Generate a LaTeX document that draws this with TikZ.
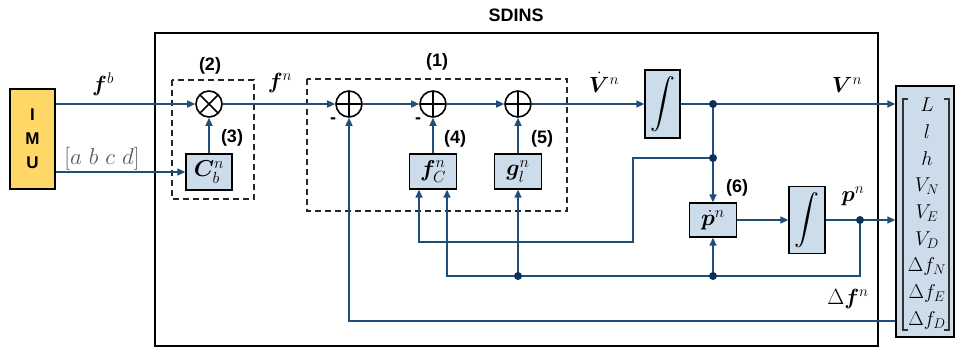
\RequirePackage{fix-cm}
\documentclass[tikz,border=0pt]{standalone}
\usepackage{amsmath,bm}
\usepackage{fontspec}
\newfontfamily\lsans{Liberation Sans}
\usetikzlibrary{arrows.meta}
\definecolor{lineblue}{HTML}{1F4E79}
\definecolor{dotnavy}{HTML}{0E2F5C}
\definecolor{boxfill}{HTML}{CDDCEB}
\definecolor{imuyellow}{HTML}{FFD766}
\definecolor{graytxt}{HTML}{5A5A5A}
\begin{document}
\begin{tikzpicture}[x=1pt,y=-1pt,
  flow/.style={draw=lineblue, line width=1.4pt, -{Triangle[length=8pt,width=7pt]}},
  blk/.style={draw=black, line width=1.3pt, fill=boxfill, inner sep=0pt},
  boxmath/.style={font=\fontsize{23}{26}\selectfont},
  intmath/.style={font=\fontsize{27}{30}\selectfont},
  sumnode/.style={circle, draw=black, line width=1.6pt, minimum size=26pt, inner sep=0pt, fill=white},
  plusnode/.style={sumnode, path picture={\draw[line width=1.6pt] (path picture bounding box.north) -- (path picture bounding box.south) (path picture bounding box.west) -- (path picture bounding box.east);}},
  timesnode/.style={sumnode, path picture={\draw[line width=1.6pt] (path picture bounding box.north west) -- (path picture bounding box.south east) (path picture bounding box.south west) -- (path picture bounding box.north east);}},
  numlab/.style={font=\lsans\bfseries\fontsize{18}{18}\selectfont, inner sep=0pt},
  mlab/.style={font=\fontsize{22}{26}\selectfont, inner sep=0pt},
  entry/.style={font=\fontsize{20}{22}\selectfont, inner sep=0pt, anchor=base},
  jdot/.style={fill=dotnavy},
  dashbox/.style={draw=black!85, line width=1.2pt, dash pattern=on 6pt off 4pt}
]
\useasboundingbox (0,0) rectangle (955,349);

% frames
\draw[line width=2.5pt] (155,33) rectangle (878,346);
\node[font=\lsans\bfseries\fontsize{18}{18}\selectfont, inner sep=0pt] (title) at (516,15) {SDINS};
\draw[dashbox] (172,80) rectangle (254,199);
\draw[dashbox] (307,79) rectangle (567,211);

% blocks
\node[draw=black, line width=1.5pt, fill=imuyellow, minimum width=45pt, minimum height=100pt, align=center,
      font=\lsans\bfseries\fontsize{17}{24}\selectfont] (imu) at (32.5,139) {I\\M\\U};
\node[timesnode] (otimes) at (209,104) {};
\node[blk, boxmath, minimum width=46pt, minimum height=36pt] (cb) at (209,172) {$\bm{C}_b^n$};
\node[plusnode] (sum1) at (349,104) {};
\node[plusnode] (sum2) at (433,104) {};
\node[plusnode] (sum3) at (518,104) {};
\node[blk, boxmath, minimum width=47pt, minimum height=35pt] (fc) at (433,171.5) {$\bm{f}_C^n$};
\node[blk, boxmath, minimum width=47pt, minimum height=35pt] (gl) at (518,171.5) {$\bm{g}_l^n$};
\node[blk, intmath, minimum width=35pt, minimum height=68pt] (int1) at (662.5,104) {$\displaystyle\int$};
\node[blk, boxmath, minimum width=47pt, minimum height=34pt] (pdot) at (713,220) {$\dot{\bm{p}}^n$};
\node[blk, intmath, minimum width=36pt, minimum height=67pt] (int2) at (807,220) {$\displaystyle\int$};
\node[blk, minimum width=58pt, minimum height=251pt] (outbox) at (925,211.5) {};

% output vector
\foreach \t [count=\i from 0] in {L, l, h, V_N, V_E, V_D, \Delta f_N, \Delta f_E, \Delta f_D}
  \node[entry] (e\i) at (927,111.7+26.7*\i) {$\t$};
\draw[line width=1.2pt, draw=black!80] (908,99) -- (903,99) -- (903,330) -- (908,330);
\draw[line width=1.2pt, draw=black!80] (944,99) -- (949,99) -- (949,330) -- (944,330);

% labels
\node[mlab] (lfb) at (103,84) {$\bm{f}^b$};
\node[mlab, text=graytxt, font=\fontsize{23}{26}\selectfont] (labcd) at (102,159) {$[a\ b\ c\ d]$};
\node[mlab] (lfn) at (280,83) {$\bm{f}^n$};
\node[mlab] (lvdot) at (604,82) {$\dot{\bm{V}}^n$};
\node[mlab] (lvn) at (847,85) {$\bm{V}^n$};
\node[mlab] (lpn) at (853,196) {$\bm{p}^n$};
\node[mlab] (ldf) at (848,299) {$\Delta\bm{f}^n$};
\node[numlab] (n1) at (437,62) {(1)};
\node[numlab] (n2) at (210,66) {(2)};
\node[numlab] (n3) at (232,138) {(3)};
\node[numlab] (n4) at (455,139) {(4)};
\node[numlab] (n5) at (542,139) {(5)};
\node[numlab] (n6) at (737,188) {(6)};
\node[numlab] (m1) at (333,121) {-};
\node[numlab] (m2) at (418,121) {-};

% coordinates
\coordinate (j1) at (713,104);
\coordinate (j2) at (713,158);
\coordinate (c1) at (633,242);
\coordinate (j3) at (860,220);
\coordinate (c2) at (860,276);
\coordinate (j4) at (713,276);
\coordinate (j5) at (518,276);
\coordinate (df) at (outbox.west |- 0,321);

% connectors
\draw[flow] (imu.east |- otimes) -- (otimes.west);
\draw[flow] (imu.east |- cb) -- (cb.west);
\draw[flow] (cb.north) -- (otimes.south);
\draw[flow] (otimes.east) -- (sum1.west);
\draw[flow] (sum1.east) -- (sum2.west);
\draw[flow] (sum2.east) -- (sum3.west);
\draw[flow] (sum3.east) -- (int1.west);
\draw[flow] (fc.north) -- (sum2.south);
\draw[flow] (gl.north) -- (sum3.south);
\draw[flow] (int1.east) -- (outbox.west |- int1);
\draw[flow] (j1) -- (pdot.north);
\draw[flow] (j2) -| (c1) -| ([xshift=-14pt]fc.south);
\draw[flow] (pdot.east) -- (int2.west);
\draw[flow] (int2.east) -- (outbox.west |- int2);
\draw[flow] (j3) -- (c2) -| ([xshift=14pt]fc.south);
\draw[flow] (j4) -- (pdot.south);
\draw[flow] (j5) -- (gl.south);
\draw[flow] (df) -| (sum1.south);

% junction dots
\foreach \j in {j1,j2,j3,j4,j5} \fill[jdot] (\j) circle (4pt);
\end{tikzpicture}
\end{document}
